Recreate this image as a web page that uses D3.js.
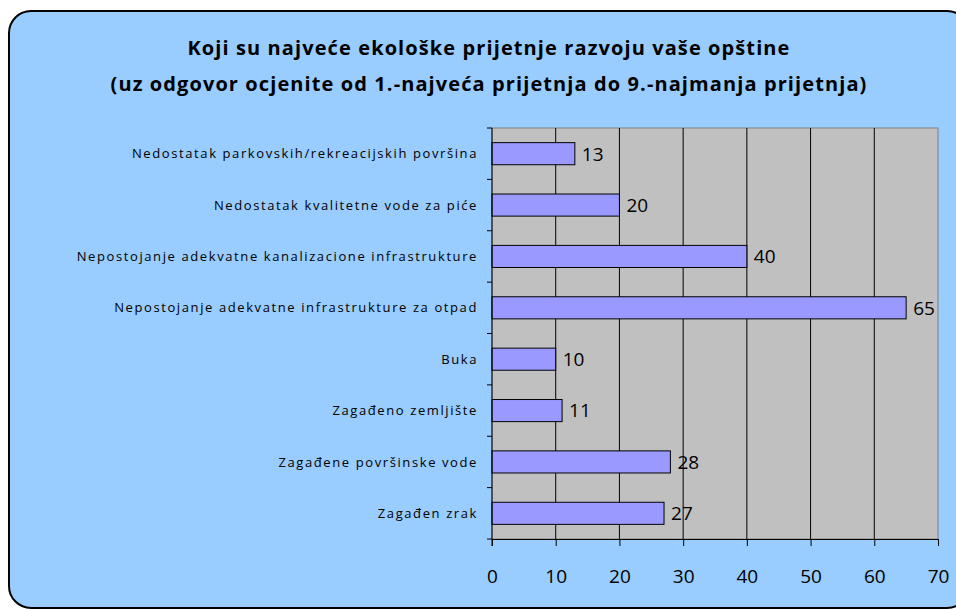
<!DOCTYPE html>
<html>
<head>
<meta charset="utf-8">
<script src="https://cdn.jsdelivr.net/npm/d3@7"></script>
<style>
  body { margin: 0; background: #fff; }
  svg { display: block; }
</style>
</head>
<body>
<svg id="chart" width="956" height="609"></svg>
<script>
const categories = [
  "Nedostatak parkovskih/rekreacijskih površina",
  "Nedostatak kvalitetne vode za piće",
  "Nepostojanje adekvatne kanalizacione infrastrukture",
  "Nepostojanje adekvatne infrastrukture za otpad",
  "Buka",
  "Zagađeno zemljište",
  "Zagađene površinske vode",
  "Zagađen zrak"
];
const values = [13, 20, 40, 65, 10, 11, 28, 27];
const xTicks = [0, 10, 20, 30, 40, 50, 60, 70];
const titleLines = [
  "Koji su najveće ekološke prijetnje razvoju vaše opštine",
  "(uz odgovor ocjenite od 1.-najveća prijetnja do 9.-najmanja prijetnja)"
];

const plot = { left: 492, right: 938, top: 128, bottom: 539 };

const svg = d3.select('#chart');

// chart background with rounded border
svg.append('rect')
  .attr('x', 9).attr('y', 11)
  .attr('width', 960).attr('height', 597)
  .attr('rx', 22).attr('ry', 22)
  .attr('fill', '#99CCFF')
  .attr('stroke', '#000')
  .attr('stroke-width', 2);

// title
svg.append('g').selectAll('text')
  .data(titleLines)
  .enter().append('text')
  .attr('x', 489)
  .attr('y', (d, i) => 55 + i * 36)
  .attr('text-anchor', 'middle')
  .style('font-family', '"Open Sans", sans-serif')
  .style('font-weight', 'bold')
  .style('font-size', '20px')
  .style('letter-spacing', '1.1px')
  .text(d => d);

const x = d3.scaleLinear().domain([0, 70]).range([plot.left, plot.right]);
const y = d3.scaleBand().domain(categories).range([plot.top, plot.bottom]).paddingInner(0.57).paddingOuter(0.285);

// plot area
svg.append('rect')
  .attr('x', plot.left).attr('y', plot.top)
  .attr('width', plot.right - plot.left).attr('height', plot.bottom - plot.top)
  .attr('fill', '#C0C0C0')
  .attr('stroke', '#808080')
  .attr('stroke-width', 1);

// vertical gridlines
svg.append('g').selectAll('line')
  .data(xTicks.slice(1, -1))
  .enter().append('line')
  .attr('x1', d => x(d)).attr('x2', d => x(d))
  .attr('y1', plot.top).attr('y2', plot.bottom)
  .attr('stroke', '#000')
  .attr('stroke-width', 1);

// bars
svg.append('g').selectAll('rect')
  .data(values)
  .enter().append('rect')
  .attr('x', x(0))
  .attr('y', (d, i) => y(categories[i]))
  .attr('width', d => x(d) - x(0))
  .attr('height', y.bandwidth())
  .attr('fill', '#9999FF')
  .attr('stroke', '#000')
  .attr('stroke-width', 1);

// value labels
svg.append('g').selectAll('text')
  .data(values)
  .enter().append('text')
  .attr('x', d => x(d) + 7)
  .attr('y', (d, i) => y(categories[i]) + y.bandwidth() / 2)
  .attr('dy', '0.36em')
  .style('font-family', '"Open Sans", sans-serif')
  .style('font-size', '19px')
  .text(d => d);

// x axis
const xAxis = svg.append('g')
  .attr('transform', `translate(0,${plot.bottom})`)
  .call(d3.axisBottom(x).tickValues(xTicks).tickSize(7).tickPadding(24));
xAxis.select('.domain').attr('stroke', '#000');
xAxis.selectAll('text')
  .style('font-family', '"Open Sans", sans-serif')
  .style('font-size', '19px')
  .attr('fill', '#000');

// y axis: ticks on category boundaries
const yLine = svg.append('g');
yLine.append('line')
  .attr('x1', plot.left).attr('x2', plot.left)
  .attr('y1', plot.top).attr('y2', plot.bottom + 7)
  .attr('stroke', '#000');
const step = (plot.bottom - plot.top) / categories.length;
yLine.selectAll('line.tk')
  .data(d3.range(categories.length + 1))
  .enter().append('line')
  .attr('class', 'tk')
  .attr('x1', plot.left - 5).attr('x2', plot.left)
  .attr('y1', i => plot.top + i * step).attr('y2', i => plot.top + i * step)
  .attr('stroke', '#000');

// category labels
svg.append('g').selectAll('text')
  .data(categories)
  .enter().append('text')
  .attr('x', plot.left - 14)
  .attr('y', d => y(d) + y.bandwidth() / 2)
  .attr('dy', '0.36em')
  .attr('text-anchor', 'end')
  .style('font-family', '"Open Sans", sans-serif')
  .style('font-size', '13px')
  .style('letter-spacing', '1.6px')
  .text(d => d);
</script>
</body>
</html>
